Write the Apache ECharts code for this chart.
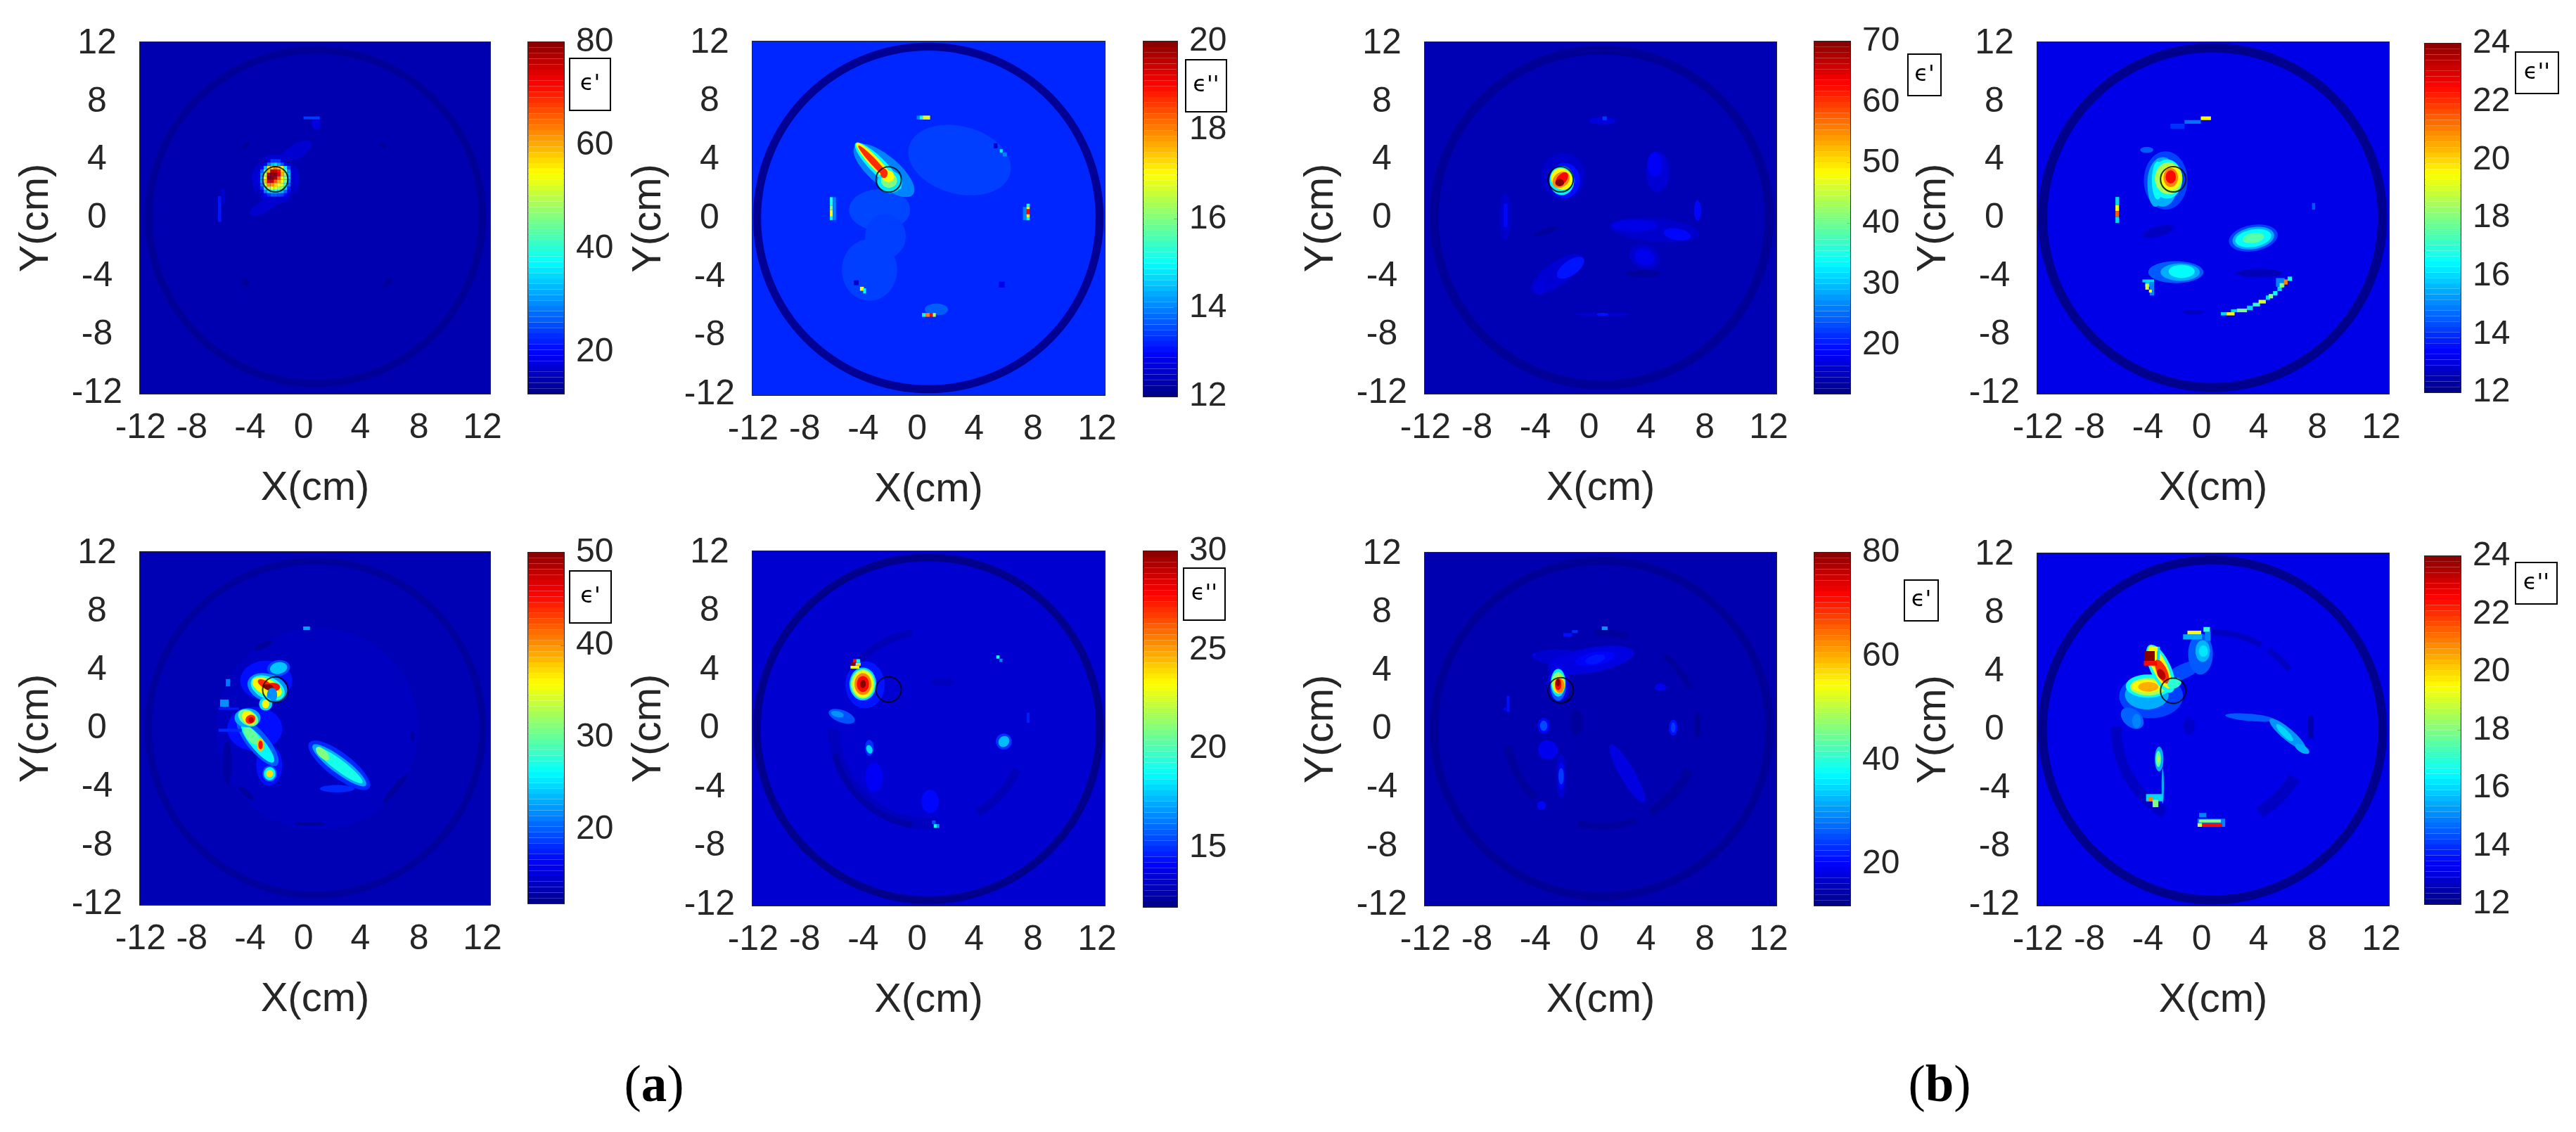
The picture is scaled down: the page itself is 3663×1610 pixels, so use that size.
<!DOCTYPE html>
<html>
<head>
    <meta charset="utf-8">
    <title>Permittivity maps</title>
    <script src="https://cdn.jsdelivr.net/npm/echarts@6/dist/echarts.min.js"></script>
    <style>
        html, body { margin: 0; padding: 0; background: #fff; }
        #chart { width: 3663px; height: 1610px; }
    </style>
</head>
<body>
<div id="chart"></div>
<script type="text/javascript">
    // tick labels
    var tickValues = [-12, -8, -4, 0, 4, 8, 12];
    var tickLabels = ['-12', '-8', '-4', '0', '4', '8', '12'];
    // the x labels sit left of their ticks in the picture
    var xLabelValues = [-12, -8.45, -4.43, -0.72, 3.2, 7.25, 11.65];

    // colour bars
    var rangeMin = [12, 12, 12, 12, 12, 12, 12, 12];
    var rangeMax = [80, 20, 70, 24, 50, 30, 80, 24];
    var barTicks = [
        [20, 40, 60, 80], [12, 14, 16, 18, 20], [20, 30, 40, 50, 60, 70], [12, 14, 16, 18, 20, 22, 24],
        [20, 30, 40, 50], [15, 20, 25, 30], [20, 40, 60, 80], [12, 14, 16, 18, 20, 22, 24]
    ];
    var barSymbols = ["ϵ'", "ϵ''", "ϵ'", "ϵ''", "ϵ'", "ϵ''", "ϵ'", "ϵ''"];
    var backgroundValues = [14.8, 13.25, 14.6, 13.15, 13.7, 13.3, 14.8, 13.15];
    var targetPoint = [-2.68, 2.68];

    // rings: value, cx, cy, outer r, inner r, start deg, end deg
    var p1Rings = [[13.2, 0.1, 0.1, 11.8, 11.2, 0, 360]];
    var p2Rings = [[12.1, 0.05, 0.05, 12.05, 11.42, 0, 360]];
    var p3Rings = [[13, 0.15, 0.05, 11.85, 11.2, 0, 360]];
    var p4Rings = [[12.1, 0.03, 0.05, 12.02, 11.35, 0, 360]];
    var p5Rings = [[12.8, 0.1, 0.05, 11.8, 11.2, 0, 360], [14.2, 0.2, 0, 7, 0, 0, 360]];
    var p6Rings = [[12.1, 0.05, 0, 12.05, 11.42, 0, 360], [13, 0.1, 0, 6.95, 6.1, 180, 275], [12.6, 0.1, 0, 6.95, 6.45, 195, 260],
        [12.9, 0.1, 0, 6.95, 6.4, 100, 145], [12.9, 0.1, 0, 6.95, 6.3, 300, 335]];
    var p7Rings = [[13.2, 0.15, 0.05, 11.85, 11.2, 0, 360], [13.4, 0.2, 0, 6.9, 6.2, 300, 335],
        [13.4, 0.2, 0, 6.9, 6.4, 255, 290], [13.4, 0.2, 0, 6.9, 6.4, 25, 50], [13.4, 0.2, 0, 6.9, 6.4, 75, 95],
        [13.4, 0.2, 0, 6.9, 6.3, 190, 225]];
    var p8Rings = [[12.1, 0.03, 0, 12.02, 11.35, 0, 360], [12.7, 0, 0, 6.95, 6.2, 178, 240],
        [12.7, 0, 0, 6.95, 6.1, 300, 330], [12.5, 0, 0, 7, 6.6, 355, 8], [12.7, 0, 0, 6.95, 6.5, 60, 90],
        [12.7, 0, 0, 6.95, 6.5, 38, 55]];

    // soft blobs: value, cx, cy, rx, ry, rotation deg
    var p1Blobs = [
        [17, -2.65, 2.7, 1.65, 1.7, 0], [17, -1.3, 4.56, 1.3, 0.5, 30], [17, -3.4, 0.85, 1.2, 0.4, 30],
        [13, -4.7, 5, 0.3, 0.15, 40], [13, 4.75, 5, 0.3, 0.15, -30], [13.2, -4.75, -4.4, 0.25, 0.3, 40],
        [13.2, 5.1, -4.4, 0.4, 0.2, 40], [18, 0.15, 6.5, 0.3, 0.4, 0]
    ];
    var p2Blobs = [
        [13.45, 2.2, 4, 3.6, 2.3, -15], [13.5, -3.3, 0.6, 2.1, 1.4, 0], [13.45, -4, -3.5, 1.9, 2.1, 0],
        [13.45, -2.9, -1.2, 1.4, 1.5, 0], [13.7, 0.6, -6.2, 0.8, 0.4, 0], [14, -3, 3.3, 2.6, 1, -40],
        [15, -3.4, 3.6, 2.2, 0.55, -45], [17, -3.6, 3.8, 1.9, 0.36, -47], [18.7, -3.6, 3.75, 1.7, 0.22, -47],
        [14.8, -2.6, 2.5, 0.85, 0.75, 0], [16, -2.65, 2.6, 0.55, 0.5, 0], [17, -2.7, 2.9, 0.4, 0.4, 0],
        [18.7, -3, 3.1, 0.25, 0.32, 0]
    ];
    var p3Blobs = [
        [16.5, 4, 3.2, 0.8, 1.4, 0], [18.5, 3.8, 3.7, 0.5, 0.85, 0], [16, 3.8, -0.8, 3.1, 0.8, -5],
        [17.5, 2.4, -0.5, 1.6, 0.4, 0], [19, 5.35, -1.1, 0.95, 0.4, -10], [16, 3.1, -2.65, 1.1, 0.8, -20],
        [18, 3.1, -2.65, 0.7, 0.55, -20], [16.5, -2.9, -3.8, 2.1, 0.8, 35], [20, -2, -3.4, 1.1, 0.5, 35],
        [17, -4.1, -4.75, 0.3, 0.5, 0], [16, -6.5, 0.1, 0.4, 1.6, 0], [19, 6.75, 0.55, 0.25, 0.7, 0],
        [17, 0.2, 6.7, 0.9, 0.25, 0], [16.5, 0.2, -6.6, 1.9, 0.1, 0], [20, 0.2, -6.6, 0.4, 0.1, 0],
        [13.2, 3, -3.8, 1.2, 0.25, 0], [13.2, -3.7, -0.9, 0.9, 0.2, 20], [16, -2.5, 2.9, 1.5, 1.6, 0],
        [19.5, -2.4, 2.6, 1.05, 1.2, 0], [33, -2.6, 2.6, 0.85, 1, 0], [48, -2.6, 2.7, 0.7, 0.78, 45],
        [55, -2.65, 2.65, 0.5, 0.65, -50], [63, -2.6, 2.7, 0.55, 0.32, 50], [70, -2.75, 2.45, 0.3, 0.25, 0]
    ];
    var p4Blobs = [
        [14.2, -3.2, 2.6, 1.5, 2, 0], [15.5, -3.4, 2.5, 1.05, 1.7, 0], [15.5, -3.9, 2.3, 0.55, 1.5, 0],
        [16.5, -3.75, 2.6, 0.4, 1.3, 0], [18, -3.7, 2.6, 0.25, 1, 0], [16.5, -3.1, 2.7, 1.05, 1.35, 0],
        [18.5, -3, 2.75, 0.95, 1.1, 0], [19.5, -2.85, 2.8, 0.7, 0.85, 0], [21, -2.85, 2.8, 0.5, 0.65, 0],
        [22.5, -2.85, 2.85, 0.35, 0.45, 0], [14.5, -4.5, 4.7, 0.45, 0.2, 0], [14.2, 2.84, -1.36, 1.7, 0.9, 10],
        [15.5, 2.84, -1.36, 1.45, 0.75, 10], [16.5, 2.84, -1.36, 1.25, 0.6, 10], [17.5, 2.84, -1.36, 0.75, 0.35, 10],
        [14.5, -2.5, -3.7, 1.9, 0.75, 0], [15.5, -2.2, -3.7, 1.35, 0.6, 0], [16.5, -2.1, -3.65, 0.9, 0.45, 0],
        [12.6, 3.26, -3.76, 1.6, 0.3, 0], [12.7, -3.7, -0.9, 1.1, 0.35, 15], [12.7, -1.3, -6.45, 0.7, 0.15, 0]
    ];
    var p5Blobs = [
        [12.8, 5.6, -4.1, 1.3, 0.2, 50], [12.6, -0.35, -6.5, 1, 0.12, 0], [12.8, -3.5, 5.7, 0.7, 0.2, 25],
        [13, -6, -2.3, 0.3, 1.5, 0], [12.8, -4.7, -4.4, 0.7, 0.2, -40], [12.8, 6.8, -0.5, 0.15, 0.3, 0],
        [17, -3.3, 3.3, 1.8, 1.35, 0], [17, -4.1, 0, 1.9, 1.5, 0], [17, -3.1, -2.5, 0.9, 1.4, 0],
        [20, -3.9, -0.9, 2.1, 0.7, -50], [26, -3.9, -1, 1.7, 0.45, -50], [30, -4.3, -0.5, 0.8, 0.35, -50],
        [38, -3.7, -1.1, 0.25, 0.45, 0], [45, -3.7, -1.1, 0.15, 0.3, 0], [19, -2.45, 4.15, 0.8, 0.55, 10],
        [24, -2.45, 4.15, 0.6, 0.4, 10], [22, -3.2, 2.8, 1.45, 0.95, -20], [27, -3.2, 2.8, 1.25, 0.75, -25],
        [36, -3.25, 2.85, 1.1, 0.55, -25], [44, -3.4, 3.05, 0.55, 0.25, -30], [45, -2.85, 2.85, 0.5, 0.3, 0],
        [50, -3.15, 2.85, 0.35, 0.2, -10], [22, -2.9, 2.3, 0.35, 0.5, 0], [25, -3.35, 1.7, 0.45, 0.45, 0],
        [36, -3.35, 1.7, 0.25, 0.3, 0], [23, -4.6, 0.75, 0.9, 0.65, 0], [30, -4.55, 0.75, 0.75, 0.5, -30],
        [36, -4.5, 0.75, 0.55, 0.4, -45], [44, -4.4, 0.65, 0.3, 0.35, -60], [48, -4.35, 0.6, 0.18, 0.2, 0],
        [20, -3.07, -3.07, 0.5, 0.55, 0], [26, -3.07, -3.07, 0.4, 0.45, 0], [37, -3.07, -3.07, 0.25, 0.25, 0],
        [18, 1.75, -2.5, 2.6, 0.85, -37], [23, 1.75, -2.5, 2.3, 0.55, -37], [27, 1.75, -2.5, 2, 0.38, -37],
        [31, 0.6, -1.7, 0.6, 0.28, -45], [18, 1.6, -4.1, 1.2, 0.25, 0]
    ];
    var p6Blobs = [
        [13, 1, 3.2, 0.8, 0.3, 0], [14, -3.68, -3.3, 0.6, 1, 0], [14.2, 0.17, -4.95, 0.6, 0.8, 0],
        [14.5, -4.3, 3, 1.35, 1.6, 0], [18, -4.45, 3.05, 0.92, 1.12, 0], [21, -4.45, 3.05, 0.82, 1, 0],
        [23, -4.45, 3.05, 0.72, 0.92, 0], [25.5, -4.45, 3.05, 0.58, 0.75, 0], [27.75, -4.45, 3.05, 0.42, 0.55, 0],
        [30, -4.45, 3.05, 0.2, 0.28, 0], [15.6, -5.9, 0.85, 0.95, 0.42, -20], [16.8, -6.2, 1, 0.45, 0.2, -15],
        [15, -4, -1.3, 0.3, 0.55, 0], [18, -4, -1.4, 0.2, 0.3, 20], [15, 5.24, -0.87, 0.55, 0.55, 0],
        [17.5, 5.24, -0.87, 0.35, 0.4, -40]
    ];
    var p7Blobs = [
        [17, -3, 5, 1.6, 0.5, 0], [18, -0.6, 4.75, 3, 0.85, 10], [20, -0.3, 4.85, 1.4, 0.45, 10],
        [21.5, -0.3, 4.8, 0.7, 0.3, 15], [19, 4.2, 2.9, 0.4, 0.25, 0], [13.5, -1.6, 0.5, 0.45, 0.9, 0],
        [13, 6.75, 0.3, 0.2, 0.9, 0], [20, -3.85, 0.25, 0.42, 0.55, 0], [25, -3.85, 0.25, 0.25, 0.35, 0],
        [21, 5.07, 0.13, 0.3, 0.55, 0], [24, 5.07, 0.13, 0.15, 0.35, 0], [19, -3.55, -1.4, 0.7, 0.65, -30],
        [17, -2.65, -3.2, 0.35, 1.5, 0], [20, -2.65, -3.2, 0.2, 0.95, 0], [24, -2.65, -3.2, 0.18, 0.55, 0],
        [18, 1.9, -3, 2.3, 0.5, -60], [20, -4, -5.2, 0.3, 0.3, -40], [19, -2.85, 3.1, 0.75, 1.25, 0],
        [26, -2.85, 3.05, 0.55, 1.1, 0], [36, -2.85, 3.2, 0.5, 0.95, 0], [47, -2.85, 3.2, 0.45, 0.72, 0],
        [56, -2.8, 3.05, 0.4, 0.6, 0], [63, -2.75, 3, 0.32, 0.5, 0], [72, -2.85, 3.1, 0.22, 0.4, 0],
        [80, -2.87, 3.2, 0.14, 0.25, 0]
    ];
    var p8Blobs = [
        [12.8, -1.6, 0.27, 0.4, 0.6, 0], [14.2, -4.2, 2.3, 2.2, 1.5, 0], [14.6, -5.5, 0.8, 0.9, 0.6, -40],
        [14.3, -2, 4, 1.5, 0.5, 25], [14.5, -0.8, 5.2, 0.85, 1.4, 0], [15.6, -0.65, 5.4, 0.5, 0.75, 0],
        [16.2, -0.6, 5.4, 0.3, 0.4, 0], [15.5, -4.5, 2.4, 1.5, 1, 0], [16.5, -4.4, 3, 1.55, 0.8, 0],
        [18.5, -4.4, 2.95, 1.25, 0.6, 0], [19.5, -4.5, 3, 1.05, 0.45, 0], [20.5, -4.4, 2.95, 0.7, 0.33, 0],
        [16.5, -3.55, 4.2, 1.8, 0.7, -65], [19.5, -3.6, 4.3, 1.6, 0.5, -65], [22, -3.45, 4, 0.9, 0.35, -65],
        [23.5, -3.5, 3.8, 0.4, 0.25, -60], [17, -2.6, 3.2, 0.5, 0.35, 20], [15, -5.2, 0.6, 0.3, 0.5, 0],
        [15.5, -3.65, -2, 0.3, 0.85, 0], [17.5, -3.7, -2, 0.18, 0.55, 0], [18.5, -3.7, -2, 0.1, 0.25, 0],
        [15.5, -3.4, -3.85, 0.08, 1.2, 0], [14.5, 2.6, 0.85, 1.7, 0.25, -5], [15.2, 5.2, -0.3, 1.6, 0.4, -40],
        [16, 5, -0.2, 0.8, 0.22, -45], [15.5, 6.2, -1.3, 0.55, 0.25, -30]
    ];

    // crisp cells: value, x0, y0, x1, y1
    var p1Cells = [
        [21.5, -6.65, -0.24, -6.42, 1.53], [17, -6.42, 1, -6.2, 2], [24, -0.73, 6.8, 0.4, 7]
    ];
    var p2Cells = [
        [14, -0.75, 6.77, -0.55, 7.04], [15, -0.55, 6.77, -0.33, 7.04], [16.8, -0.33, 6.77, 0.17, 7.04],
        [15.2, -6.72, 0.9, -6.52, 1.47], [16, -6.72, 0.6, -6.52, 0.9], [17, -6.72, 0.15, -6.52, 0.6],
        [15, -6.72, -0.09, -6.52, 0.15], [14, -6.52, -0.09, -6.3, 1.47], [14, 6.55, -0.1, 6.8, 0.8],
        [15, 6.8, 0.8, 7.02, 1.02], [17, 6.8, 0.65, 7.02, 0.8], [19, 6.8, 0.3, 7.02, 0.65],
        [17, 6.8, 0.1, 7.02, 0.3], [15, 6.8, -0.09, 7.02, 0.1], [12.5, 4.55, 4.8, 4.8, 5.15],
        [15, 4.96, 4.52, 5.16, 4.74], [14, 5.16, 4.25, 5.45, 4.52], [12.5, -5.07, -4.54, -4.74, -4.2],
        [17, -4.65, -4.92, -4.38, -4.65], [15, -4.43, -5.1, -4.24, -4.75], [12.8, 4.9, -4.7, 5.3, -4.3],
        [15, -0.39, -6.7, -0.14, -6.44], [18, -0.14, -6.7, 0.14, -6.44], [19, 0.14, -6.7, 0.36, -6.44],
        [16.5, 0.36, -6.7, 0.56, -6.44]
    ];
    var p3Cells = [
        [22, 0.2, 6.75, 0.5, 7], [19, -6.6, -0.6, -6.35, 1]
    ];
    var p4Cells = [
        [16, -6.66, 0.9, -6.41, 1.47], [19.5, -6.66, 0.5, -6.41, 0.9], [21.5, -6.66, 0.1, -6.41, 0.5],
        [16, -6.66, -0.31, -6.41, 0.1], [19.5, -0.78, 6.75, -0.08, 7], [14.8, -1.9, 6.5, -0.78, 6.75],
        [14, -2.87, 6.15, -1.9, 6.5], [16, -4.8, -4.4, -4, -4.2], [16, -4.6, -4.7, -4.3, -4.4],
        [15, -4.3, -5.3, -4, -4.4], [19, -4.6, -4.9, -4.35, -4.5], [19.5, -4.35, -5.1, -4.15, -4.9],
        [16, 0.6, -6.67, 1, -6.45], [19.5, 1, -6.67, 1.55, -6.45], [16, 1.3, -6.45, 1.7, -6.25],
        [17.8, 1.7, -6.45, 2.4, -6.2], [16, 2.4, -6.3, 2.8, -6], [17, 2.8, -6.05, 3.3, -5.8],
        [19, 3.2, -5.85, 3.7, -5.6], [16, 3.7, -5.6, 4, -5.3], [18, 3.9, -5.5, 4.2, -5.2],
        [16.5, 4.2, -5.3, 4.5, -5], [15, 4.4, -4.7, 5, -4.1], [16, 4.5, -5, 4.8, -4.7],
        [18, 4.65, -4.75, 4.95, -4.45], [21, 4.95, -4.55, 5.2, -4.2], [16.5, 5.2, -4.3, 5.5, -4],
        [14.5, 6.88, 0.6, 7.1, 1.05]
    ];
    var p5Cells = [
        [22.6, -0.75, 6.75, -0.28, 7], [22, -6.5, 1.5, -5.9, 2], [21, -6.1, 2.9, -5.8, 3.4],
        [17.5, -6.6, 1.3, -5.2, 1.45], [18, -6.6, -0.2, -5, 0]
    ];
    var p6Cells = [
        [23, -5.3, 4.1, -4.7, 4.3], [24, -4.95, 4.3, -4.6, 4.5], [30, -5.25, 4.3, -5, 4.55],
        [27.75, -5.13, 4.52, -4.9, 4.75], [18.75, -4.9, 4.5, -4.65, 4.75], [15.5, 0.3, -6.5, 0.55, -6.25],
        [18.75, 0.42, -6.75, 0.65, -6.5], [17, 0.65, -6.75, 0.8, -6.5], [19, 4.72, 4.78, 4.94, 5],
        [16.5, 4.94, 4.55, 5.15, 4.78], [14.7, 6.82, 0.4, 7, 1.1]
    ];
    var p7Cells = [
        [30, 0.15, 6.8, 0.55, 7.05], [23, -1.9, 6.6, -1.5, 6.8], [21, -2.5, 6.35, -1.9, 6.6],
        [20, -4.6, 5, -4.4, 5.2], [21, -6.4, 1.2, -6.2, 2.3], [20, -6.6, 1.3, -6.4, 1.5]
    ];
    var p8Cells = [
        [12.5, 6.6, -0.3, 7, 0.8], [16, -3.8, 4.8, -3.6, 5.7], [22.5, -4.7, 4.4, -3.8, 4.72],
        [24, -4.65, 4.72, -3.95, 5.4], [19.5, -4, 5.4, -3.75, 5.7], [15.5, -2, 6.2, -0.7, 6.55],
        [19.5, -1.7, 6.55, -0.75, 6.8], [15, -0.5, 6.1, -0.1, 6.72], [17, -0.6, 6.72, -0.15, 7.05],
        [16, -4.55, -4.9, -3.4, -4.4], [21, -4.4, -4.9, -4.1, -4.6], [18, -4.1, -5.3, -3.7, -4.8],
        [15, -1, -6.65, 0.9, -6.1], [15, -0.9, -6, -0.4, -5.7], [18, -0.9, -6.35, 0.6, -6.15],
        [22.5, -0.7, -6.65, 0.7, -6.4], [19, -1, -6.65, -0.7, -6.4]
    ];

    // hot spot of the first panel, cell by cell: left, top, cell size, then rows from the top
    var p1SpotLeft = -3.95;
    var p1SpotTop = 4.06;
    var p1SpotCell = 0.2333;
    var p1SpotRows = [
        [15, 15, 15, 18, 24, 24, 24, 18, 16, 15, 15],
        [15, 16, 20, 28, 33, 35, 31, 26, 20, 16, 15],
        [16, 20, 33, 56, 58, 63, 58, 54, 37, 24, 16],
        [17, 27, 44, 60, 76, 76, 71, 58, 47, 30, 17],
        [18, 30, 51, 76, 80, 80, 74, 60, 48, 32, 17],
        [18, 32, 56, 80, 80, 77, 66, 55, 47, 32, 17],
        [18, 32, 59, 74, 75, 66, 60, 54, 45, 30, 17],
        [17, 28, 51, 63, 62, 58, 55, 51, 41, 27, 16],
        [16, 23, 37, 47, 53, 52, 49, 45, 35, 22, 16],
        [15, 18, 29, 35, 38, 38, 36, 33, 27, 20, 15],
        [15, 16, 20, 23, 26, 26, 25, 24, 20, 17, 15]
    ];

    var allRings = [p1Rings, p2Rings, p3Rings, p4Rings, p5Rings, p6Rings, p7Rings, p8Rings];
    var allBlobs = [p1Blobs, p2Blobs, p3Blobs, p4Blobs, p5Blobs, p6Blobs, p7Blobs, p8Blobs];
    var allCells = [p1Cells, p2Cells, p3Cells, p4Cells, p5Cells, p6Cells, p7Cells, p8Cells];

    p1SpotRows.forEach(function (row, r) {
        row.forEach(function (v, c) {
            p1Cells.push([v, p1SpotLeft + c * p1SpotCell, p1SpotTop - (r + 1) * p1SpotCell,
                p1SpotLeft + (c + 1) * p1SpotCell, p1SpotTop - r * p1SpotCell]);
        });
    });

    // layout in pixels: plot left, top, size; bar left, top, width, height; symbol box left, top, width, height
    var plotBoxes = [
        [199, 60, 498, 500], [1070, 59, 501, 503], [2026, 60, 500, 500], [2897, 60, 500, 500],
        [199, 785, 498, 502], [1070, 784, 501, 504], [2026, 786, 500, 502], [2897, 787, 500, 501]
    ];
    var barBoxes = [
        [751, 60, 51, 500], [1626, 59, 48, 505], [2580, 59, 51, 501], [3448, 62, 51, 496],
        [751, 786, 51, 499], [1626, 784, 48, 506], [2580, 786, 51, 502], [3448, 791, 51, 495]
    ];
    var symbolBoxes = [
        [810, 83, 58, 74], [1686, 85, 58, 74], [2713, 77, 47, 59], [3577, 74, 61, 59],
        [810, 812, 59, 74], [1683, 808, 59, 74], [2708, 825, 48, 58], [3577, 800, 59, 59]
    ];

    var textColor = '#262626';
    var fontName = '"Liberation Sans", Arial, sans-serif';

    var jetColors = [];
    for (var j = 0; j < 64; j++) {
        var t = (j + 0.5) / 64;
        var part = function (c) { return Math.round(255 * Math.max(0, Math.min(1, 1.5 - Math.abs(4 * t - c)))); };
        jetColors.push('rgb(' + part(3) + ',' + part(2) + ',' + part(1) + ')');
    }

    function drawRect(params, api) {
        var a = api.coord([api.value(1), api.value(4)]);
        var b = api.coord([api.value(3), api.value(2)]);
        return {
            type: 'rect',
            shape: { x: a[0], y: a[1], width: b[0] - a[0], height: b[1] - a[1] },
            style: { fill: api.visual('color') }
        };
    }

    function drawBlob(params, api) {
        var c = api.coord([api.value(1), api.value(2)]);
        var s = api.size([api.value(3), api.value(4)]);
        return {
            type: 'ellipse',
            x: c[0],
            y: c[1],
            rotation: api.value(5) * Math.PI / 180,
            shape: { cx: 0, cy: 0, rx: s[0], ry: s[1] },
            style: { fill: api.visual('color') }
        };
    }

    function drawRing(params, api) {
        var c = api.coord([api.value(1), api.value(2)]);
        var s = api.size([api.value(3), api.value(4)]);
        return {
            type: 'sector',
            shape: {
                cx: c[0], cy: c[1], r: s[0], r0: s[1],
                startAngle: -api.value(6) * Math.PI / 180,
                endAngle: -api.value(5) * Math.PI / 180,
                clockwise: true
            },
            style: { fill: api.visual('color') }
        };
    }

    function lineAxis(gridIndex, position, extent) {
        return {
            type: 'value',
            gridIndex: gridIndex,
            position: position,
            min: extent[0],
            max: extent[1],
            splitLine: { show: false },
            axisLine: { show: true, onZero: false, lineStyle: { color: textColor, width: 2 } },
            axisTick: { show: false },
            axisLabel: { show: false }
        };
    }

    function addTicks(axis, values) {
        axis.axisTick = { show: true, inside: true, length: 5, customValues: values, lineStyle: { color: textColor, width: 2 } };
        return axis;
    }

    var option = {
        backgroundColor: '#ffffff',
        animation: false,
        grid: [], xAxis: [], yAxis: [], series: [], visualMap: [],
        graphic: []
    };

    plotBoxes.forEach(function (box, i) {
        var xExtent = [-12.04, 12.18];
        var yExtent = [-12.05, 12.1];
        var plotGrid = option.grid.length;
        option.grid.push({ left: box[0], top: box[1], width: box[2], height: box[3] });
        var barGrid = option.grid.length;
        var bar = barBoxes[i];
        option.grid.push({ left: bar[0], top: bar[1], width: bar[2], height: bar[3] });

        var xBottom = addTicks(lineAxis(plotGrid, 'bottom', xExtent), tickValues);
        xBottom.axisLabel = {
            show: true, customValues: xLabelValues, margin: 24, color: textColor, fontSize: 50, fontFamily: fontName,
            formatter: function (v) { return tickLabels[xLabelValues.indexOf(v)]; }
        };
        xBottom.name = 'X(cm)';
        xBottom.nameLocation = 'middle';
        xBottom.nameGap = 106;
        xBottom.nameMoveOverlap = false;
        xBottom.nameTextStyle = { color: textColor, fontSize: 58, fontFamily: fontName };

        var yLeft = addTicks(lineAxis(plotGrid, 'left', yExtent), tickValues);
        yLeft.axisLabel = {
            show: true, customValues: tickValues, margin: 61, align: 'center', padding: [10, 0, 0, 0],
            color: textColor, fontSize: 50, fontFamily: fontName,
            formatter: function (v) { return tickLabels[tickValues.indexOf(v)]; }
        };
        yLeft.name = 'Y(cm)';
        yLeft.nameLocation = 'middle';
        yLeft.nameGap = 118;
        yLeft.nameMoveOverlap = false;
        yLeft.nameTextStyle = { color: textColor, fontSize: 58, fontFamily: fontName };

        var xIndex = option.xAxis.length;
        var yIndex = option.yAxis.length;
        option.xAxis.push(xBottom, addTicks(lineAxis(plotGrid, 'top', xExtent), tickValues));
        option.yAxis.push(yLeft, addTicks(lineAxis(plotGrid, 'right', yExtent), tickValues));

        var barExtent = [rangeMin[i], rangeMax[i]];
        var yBar = addTicks(lineAxis(barGrid, 'right', barExtent), barTicks[i]);
        yBar.axisLabel = {
            show: true, customValues: barTicks[i], margin: 17, padding: [8, 0, 0, 0],
            color: textColor, fontSize: 48, fontFamily: fontName
        };
        option.xAxis.push(lineAxis(barGrid, 'bottom', [0, 1]), lineAxis(barGrid, 'top', [0, 1]));
        option.yAxis.push(yBar, lineAxis(barGrid, 'left', barExtent));

        var first = option.series.length;
        var plotAxes = { xAxisIndex: xIndex, yAxisIndex: yIndex };
        function custom(render, data, axes) {
            return Object.assign({
                type: 'custom', silent: true, clip: true, renderItem: render, data: data,
                encode: { x: 1, y: 2 }
            }, axes);
        }
        option.series.push(custom(drawRect, [[backgroundValues[i], xExtent[0], yExtent[0], xExtent[1], yExtent[1]]], plotAxes));
        option.series.push(custom(drawRing, allRings[i], plotAxes));
        option.series.push(custom(drawBlob, allBlobs[i], plotAxes));
        option.series.push(custom(drawRect, allCells[i], plotAxes));

        var bands = jetColors.map(function (c, k) {
            var step = (barExtent[1] - barExtent[0]) / jetColors.length;
            return [barExtent[0] + (k + 0.5) * step, 0, barExtent[0] + k * step, 1, barExtent[0] + (k + 1) * step];
        });
        option.series.push(custom(drawRect, bands, { xAxisIndex: xIndex + 2, yAxisIndex: yIndex + 2 }));

        option.visualMap.push({
            show: false, type: 'continuous', dimension: 0, min: barExtent[0], max: barExtent[1],
            seriesIndex: [first, first + 1, first + 2, first + 3, first + 4],
            inRange: { color: jetColors }
        });

        option.series.push({
            type: 'scatter', silent: true, xAxisIndex: xIndex, yAxisIndex: yIndex, data: [targetPoint],
            symbolSize: 36, itemStyle: { color: 'transparent', borderColor: '#000', borderWidth: 2 }, z: 5
        });

        var sb = symbolBoxes[i];
        option.graphic.push({
            type: 'rect', silent: true, z: 20,
            shape: { x: sb[0], y: sb[1], width: sb[2], height: sb[3] },
            style: { fill: '#fff', stroke: '#000', lineWidth: 2 }
        });
        option.graphic.push({
            type: 'text', silent: true, z: 21,
            x: sb[0] + sb[2] / 2, y: sb[1] + sb[3] / 2,
            style: {
                text: barSymbols[i], fill: '#000', font: '32px "DejaVu Sans"',
                textAlign: 'center', textVerticalAlign: 'middle'
            }
        });
    });

    [['a', 930], ['b', 2758]].forEach(function (p) {
        option.graphic.push({
            type: 'text', silent: true, z: 21, x: p[1], y: 1547,
            style: {
                text: '{r|(}{b|' + p[0] + '}{r|)}',
                textAlign: 'center', textVerticalAlign: 'middle',
                rich: {
                    r: { fill: '#000', font: '73px "Liberation Serif"' },
                    b: { fill: '#000', font: 'bold 73px "Liberation Serif"' }
                }
            }
        });
    });

    var myChart = echarts.init(document.getElementById('chart'));
    myChart.setOption(option);
</script>
</body>
</html>
